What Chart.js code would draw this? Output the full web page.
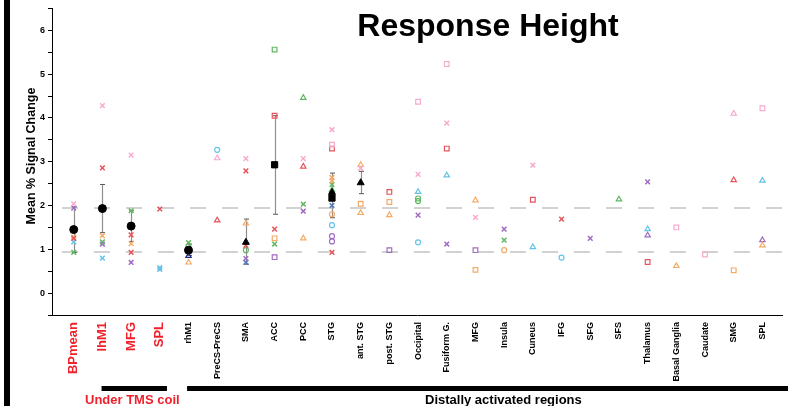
<!DOCTYPE html>
<html><head><meta charset="utf-8">
<script src="https://cdn.jsdelivr.net/npm/chart.js@4"></script>
<style>html,body{margin:0;padding:0;background:#fff;overflow:hidden}</style>
</head><body>
<canvas id="c" width="788" height="406"></canvas>
<script>
// ---------- data ----------
const categories = ['BPmean','lhM1','MFG','SPL','rhM1','PreCS-PreCS','SMA','ACC','PCC','STG','ant. STG','post. STG','Occipital','Fusiform G.','MFG','Insula','Cuneus','IFG','SFG','SFS','Thalamus','Basal Ganglia','Caudate','SMG','SPL'];
const underCoilCount = 4;
const refLines = [0.93, 1.94];
const groupLabels = ['Under TMS coil', 'Distally activated regions'];

// individual subjects: [categoryIndex, value]
const pinkX = [[0,2.04],[1,4.28],[2,3.15],[6,3.07],[8,3.07],[9,3.73],[10,2.85],[12,2.71],[13,3.88],[14,1.73],[16,2.92]];
const pinkSquare = [[9,3.39],[12,4.37],[13,5.23],[21,1.50],[22,0.88],[24,4.22]];
const pinkTriangle = [[5,3.08],[23,4.10]];
const redX = [[0,1.25],[1,2.86],[2,1.33],[2,0.93],[3,1.92],[6,2.79],[6,1.09],[7,1.46],[9,0.93],[17,1.69]];
const redSquare = [[7,4.05],[9,3.30],[11,2.31],[13,3.30],[16,2.13],[20,0.71]];
const redTriangle = [[5,1.66],[8,2.89],[23,2.58]];
const orangeX = [[0,1.28],[1,1.31],[2,1.13],[9,2.64],[9,2.56]];
const orangeSquare = [[7,1.25],[10,2.04],[11,2.08],[14,0.53],[23,0.52]];
const orangeTriangle = [[4,0.70],[6,1.59],[8,1.25],[10,2.93],[10,1.83],[11,1.78],[14,2.12],[21,0.62],[24,1.09]];
const orangeCircle = [[9,1.80],[15,0.98]];
const greenX = [[0,0.93],[1,1.17],[2,1.88],[4,1.15],[7,1.12],[8,2.03],[9,2.48],[15,1.21]];
const greenSquare = [[7,5.56]];
const greenTriangle = [[8,4.46],[9,2.35],[19,2.14]];
const greenCircle = [[4,1.07],[6,0.98],[12,2.16],[12,2.10]];
const cyanX = [[0,1.17],[1,0.80],[3,0.58],[3,0.54]];
const cyanCircle = [[5,3.27],[9,1.55],[12,1.16],[17,0.81]];
const cyanTriangle = [[12,2.31],[13,2.69],[16,1.05],[20,1.46],[24,2.57]];
const purpleX = [[0,1.94],[1,1.12],[2,0.70],[6,0.79],[8,1.87],[12,1.78],[13,1.12],[15,1.46],[18,1.25],[20,2.54]];
const purpleSquare = [[7,0.82],[11,0.98],[14,0.98]];
const purpleCircle = [[9,1.30],[9,1.18]];
const purpleTriangle = [[20,1.32],[24,1.21]];
const blueX = [[6,0.70],[9,2.00]];
const navyTriangle = [[4,0.85]];

// group means and error bars
const meanCircle = [[0,1.45],[1,1.93],[2,1.53],[4,0.98]];
const meanTriangle = [[6,1.16],[9,2.30],[10,2.52]];
const meanSquare = [[7,2.93],[9,2.17]];
const errorBars = [[0,0.93,1.97],[1,1.38,2.48],[2,1.18,1.88],[4,0.86,1.12],[6,0.66,1.69],[7,1.80,4.05],[9,1.72,2.74],[10,2.27,2.78]];

// ---------- styling ----------
const COL = {pink:'#f6abcf', red:'#e6535b', orange:'#f5aa66', green:'#62b862', cyan:'#66c3e8', purple:'#a16cc4', blue:'#5579bb', navy:'#1c2a86'};
const SHAPE = {X:['crossRot',3.3], Square:['rect',3.3], Triangle:['triangle',3.1], Circle:['circle',2.5]};
const subjectSeries = [
  ['pink','X',pinkX],['pink','Square',pinkSquare],['pink','Triangle',pinkTriangle],
  ['red','X',redX],['red','Square',redSquare],['red','Triangle',redTriangle],
  ['orange','X',orangeX],['orange','Square',orangeSquare],['orange','Triangle',orangeTriangle],['orange','Circle',orangeCircle],
  ['green','X',greenX],['green','Square',greenSquare],['green','Triangle',greenTriangle],['green','Circle',greenCircle],
  ['cyan','X',cyanX],['cyan','Circle',cyanCircle],['cyan','Triangle',cyanTriangle],
  ['purple','X',purpleX],['purple','Square',purpleSquare],['purple','Circle',purpleCircle],['purple','Triangle',purpleTriangle],
  ['blue','X',blueX],['navy','Triangle',navyTriangle]
];
const toPts = arr => arr.map(([i,v]) => ({x:i, y:v}));
const datasets = subjectSeries.map(([c,s,arr]) => ({
  data: toPts(arr), showLine:false,
  pointStyle: SHAPE[s][0], pointRadius: SHAPE[s][1],
  borderColor: COL[c], backgroundColor: 'rgba(255,255,255,0)',
  pointBorderWidth: s==='X' ? 1.5 : 1.2, order: 2
}));
datasets.push({data: toPts(meanCircle), pointStyle:'circle', pointRadius:4, backgroundColor:'#000', borderColor:'#000', order:1});
datasets.push({data: toPts(meanTriangle), pointStyle:'triangle', pointRadius:4, backgroundColor:'#000', borderColor:'#000', order:1});
datasets.push({data: toPts(meanSquare), pointStyle:'rect', pointRadius:4.4, backgroundColor:'#000', borderColor:'#000', order:1});

const RED = '#f0212b';

const decor = {
  id:'decor',
  beforeDatasetsDraw(chart){
    const {ctx, chartArea:a, scales:{x,y}} = chart;
    ctx.save();
    // reference dashed lines
    ctx.strokeStyle = '#d2d2d2'; ctx.lineWidth = 2; ctx.setLineDash([16,16]); ctx.lineDashOffset = -6;
    refLines.forEach(v => { const py = Math.round(y.getPixelForValue(v)); ctx.beginPath(); ctx.moveTo(a.left+4, py); ctx.lineTo(a.right, py); ctx.stroke(); });
    ctx.setLineDash([]);
    // error bars
    errorBars.forEach(([i,lo,hi]) => {
      const px = Math.round(x.getPixelForValue(i))+0.5, p1 = y.getPixelForValue(lo), p2 = y.getPixelForValue(hi);
      ctx.strokeStyle = '#8f8f8f'; ctx.lineWidth = 1.2;
      ctx.beginPath(); ctx.moveTo(px,p1); ctx.lineTo(px,p2); ctx.stroke();
      ctx.strokeStyle = '#555'; ctx.lineWidth = 1;
      ctx.beginPath(); ctx.moveTo(px-2.5,p1); ctx.lineTo(px+2.5,p1); ctx.moveTo(px-2.5,p2); ctx.lineTo(px+2.5,p2); ctx.stroke();
    });
    ctx.restore();
  },
  afterDraw(chart){
    const {ctx, scales:{x}} = chart;
    ctx.save();
    // left frame bar
    ctx.fillStyle = '#000'; ctx.fillRect(4,0,6,406);
    // title
    ctx.fillStyle = '#000'; ctx.font = 'bold 32px "Liberation Sans", Arial, sans-serif';
    ctx.textAlign = 'center'; ctx.textBaseline = 'alphabetic';
    ctx.fillText('Response Height', 488, 36);
    // y title
    ctx.save(); ctx.translate(32, 156); ctx.rotate(-Math.PI/2);
    ctx.font = 'bold 12.5px "Liberation Sans", Arial, sans-serif'; ctx.textBaseline = 'middle';
    ctx.fillText('Mean % Signal Change', 0, 0); ctx.restore();
    // group bars
    const g1a = x.getPixelForValue(0.97), g1b = x.getPixelForValue(3.25), g2a = x.getPixelForValue(3.95);
    ctx.fillStyle = '#000';
    ctx.fillRect(g1a, 386, g1b-g1a, 5);
    ctx.fillRect(g2a, 386, 788-g2a, 5);
    ctx.font = 'bold 13px "Liberation Sans", Arial, sans-serif'; ctx.textAlign = 'left'; ctx.textBaseline = 'alphabetic';
    ctx.fillStyle = RED; ctx.fillText(groupLabels[0], 85, 404);
    ctx.fillStyle = '#000'; ctx.fillText(groupLabels[1], 425, 404);
    ctx.restore();
  }
};

new Chart(document.getElementById('c'), {
  type:'scatter',
  data:{datasets},
  options:{
    responsive:false, devicePixelRatio:1, animation:false,
    layout:{padding:{top:6,left:0,right:0,bottom:0}},
    plugins:{legend:{display:false}, tooltip:{enabled:false}},
    scales:{
      x:{type:'linear', min:-0.757, max:24.70,
        afterBuildTicks: s => { s.ticks = categories.map((_,i)=>({value:i})); },
        afterFit: s => { s.height = 91; },
        grid:{display:false, drawTicks:false},
        border:{display:true, color:'#000', width:1},
        ticks:{autoSkip:false, minRotation:90, maxRotation:90, padding:7,
          callback: v => categories[v],
          color: c => c.index < underCoilCount ? RED : '#000',
          font: c => c.index < underCoilCount ? {family:'"Liberation Sans", Arial, sans-serif', size:13, weight:'bold'} : {family:'"Liberation Sans", Arial, sans-serif', size:9, weight:'bold'}
        }
      },
      y:{type:'linear', min:-0.5, max:6.5,
        afterFit: s => { s.width = 52; },
        grid:{display:true, drawOnChartArea:false, drawTicks:true, tickLength:4, color:'#000'},
        border:{display:true, color:'#000', width:1},
        ticks:{stepSize:0.5, padding:3, color:'#000',
          callback: v => Number.isInteger(v) ? String(v) : '',
          font:{family:'"Liberation Sans", Arial, sans-serif', size:9, weight:'bold'}}
      }
    }
  },
  plugins:[decor]
});
</script>
</body></html>
